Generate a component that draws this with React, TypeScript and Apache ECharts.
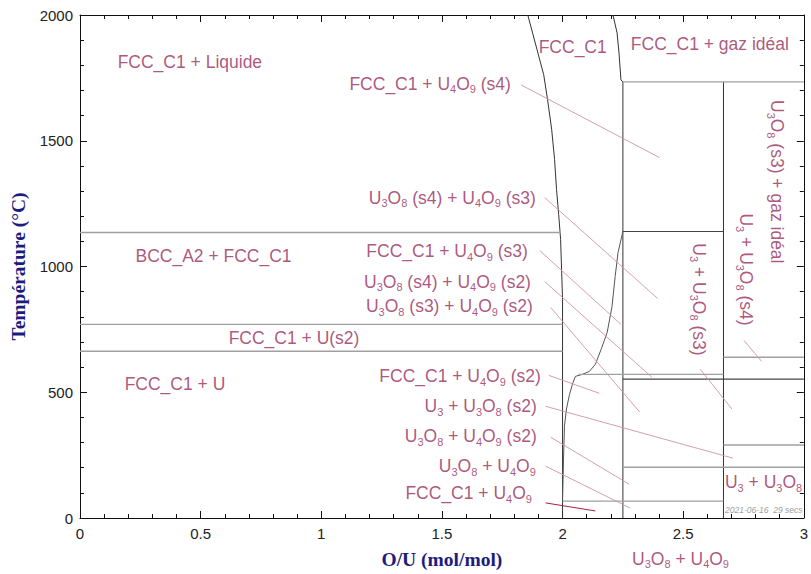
import React, { useEffect, useRef } from 'react';
import * as echarts from 'echarts';

// Axis ranges / ticks
const xRange = [0, 3];
const xStep = 0.5;
const yRange = [0, 2000];
const yStep = 500;

// Phase boundaries: [O/U, T (°C)]
const lowerFccBoundary = [
  [1.856, 2000], [1.889, 1881], [1.922, 1762], [1.938, 1663], [1.955, 1544],
  [1.967, 1425], [1.975, 1306], [1.984, 1206], [1.992, 1107], [1.996, 988],
  [2.0, 869], [2.0, 0],
];
const upperFccBoundary = [
  [2.209, 2000], [2.226, 1929], [2.234, 1849], [2.242, 1742], [2.25, 1734],
];
const u4o9Solvus = [
  [2.25, 1139], [2.23, 1056], [2.218, 960], [2.205, 841], [2.185, 738],
  [2.16, 671], [2.136, 611], [2.111, 583], [2.082, 571], [2.053, 563],
  [2.041, 532], [2.029, 492], [2.016, 433], [2.008, 365], [2.004, 234], [2.0, 75],
];
const u4o9Line = [[2.25, 1734], [2.25, 0]];
const u3o8Line = [[2.667, 1734], [2.667, 0]];

// Isotherms: [T, x from, x to]
const grayIsotherms = [
  [1135, 0, 1.993], [770, 0, 2.0], [663, 0, 2.0], [1734, 2.25, 3],
  [639, 2.667, 3], [571, 2.066, 2.667], [290, 2.667, 3], [202, 2.25, 3],
  [67, 2.0, 2.667],
];
const darkIsotherms = [
  [1139, 2.25, 2.667], [552, 2.25, 3],
];

// Leader lines: [[x1, T1], [x2, T2]]
const leaders = [
  [[1.828, 1722], [2.402, 1433]],
  [[1.926, 1274], [2.394, 873]],
  [[1.906, 1063], [2.242, 770]],
  [[1.926, 940], [2.37, 560]],
  [[1.951, 837], [2.32, 421]],
  [[1.943, 567], [2.152, 496]],
  [[1.93, 444], [2.706, 238]],
  [[1.951, 321], [2.275, 135]],
  [[1.93, 206], [2.279, 40]],
  [[2.752, 706], [2.825, 623]],
  [[2.571, 591], [2.702, 433]],
];
const darkLeaders = [
  [[1.93, 60], [2.136, 28]],
];

// Phase labels: [text, x, T]
const leftLabels: [string, number, number][] = [
  ['FCC_C1 + Liquide', 0.156, 1813],
  ['BCC_A2 + FCC_C1', 0.23, 1040],
  ['FCC_C1 + U(s2)', 0.616, 714],
  ['FCC_C1 + U', 0.185, 532],
  ['FCC_C1', 1.901, 1873],
  ['FCC_C1 + gaz idéal', 2.283, 1885],
  ['U{s|3} + U{s|3}O{s|8}', 2.673, 143],
];
const rightLabels: [string, number, number][] = [
  ['FCC_C1 + U{s|4}O{s|9} (s4)', 1.786, 1726],
  ['U{s|3}O{s|8} (s4) + U{s|4}O{s|9} (s3)', 1.889, 1274],
  ['FCC_C1 + U{s|4}O{s|9} (s3)', 1.856, 1060],
  ['U{s|3}O{s|8} (s4) + U{s|4}O{s|9} (s2)', 1.869, 940],
  ['U{s|3}O{s|8} (s3) + U{s|4}O{s|9} (s2)', 1.877, 841],
  ['FCC_C1 + U{s|4}O{s|9} (s2)', 1.91, 563],
  ['U{s|3} + U{s|3}O{s|8} (s2)', 1.893, 444],
  ['U{s|3}O{s|8} + U{s|4}O{s|9} (s2)', 1.893, 325],
  ['U{s|3}O{s|8} + U{s|4}O{s|9}', 1.889, 206],
  ['FCC_C1 + U{s|4}O{s|9}', 1.873, 99],
];
const verticalLabels: [string, number, number][] = [
  ['U{s|3}O{s|8} (s3) + gaz idéal', 2.887, 1337],
  ['U{s|3} + U{s|3}O{s|8} (s4)', 2.76, 988],
  ['U{s|3} + U{s|3}O{s|8} (s3)', 2.567, 869],
];
const centeredLabels: [string, number, number][] = [
  ['U{s|3}O{s|8} + U{s|4}O{s|9}', 2.489, -163],
];

const xTitle = 'O/U (mol/mol)';
const yTitle = 'Température (°C)';
const stamp = '2021-06-16  29 secs';

const LABEL_COLOR = '#972c5b';
const SANS = '"Liberation Sans", Arial, sans-serif';
const SERIF = '"Liberation Serif", "Times New Roman", serif';

export default function App() {
  const ref = useRef<HTMLDivElement>(null);

  useEffect(() => {
    const chart = echarts.init(ref.current!, null, { renderer: 'svg' });

    const lineSeries = (data: number[][], color: string, width = 1) => ({
      type: 'line',
      data,
      symbol: 'none',
      showSymbol: false,
      silent: true,
      animation: false,
      lineStyle: { color, width },
      z: 3,
    });

    const series: any[] = [];
    series.push(lineSeries(lowerFccBoundary, '#333', 1));
    series.push(lineSeries(upperFccBoundary, '#333', 1));
    series.push(lineSeries(u4o9Solvus, '#555', 1));
    series.push(lineSeries(u4o9Line, '#555', 1.2));
    series.push(lineSeries(u3o8Line, '#333', 1));
    grayIsotherms.forEach(([t, a, b]) => series.push(lineSeries([[a, t], [b, t]], '#a0a0a0', 1.4)));
    darkIsotherms.forEach(([t, a, b]) => series.push(lineSeries([[a, t], [b, t]], '#444', 1.1)));
    leaders.forEach((l) => series.push(lineSeries(l, '#cf93aa', 0.9)));
    darkLeaders.forEach((l) => series.push(lineSeries(l, '#a8203e', 1)));

    const rich = {
      s: { fontSize: 11, fontFamily: SANS, color: LABEL_COLOR, padding: [11, 0, 0, 0] },
    };
    const mkLabel = (text: string, x: number, t: number, position: string, rotate = 0) => ({
      value: [x, t],
      label: {
        show: true,
        position,
        distance: 0,
        rotate,
        formatter: text,
        color: LABEL_COLOR,
        fontSize: 17.5,
        fontFamily: SANS,
        rich,
      },
    });
    const labelData = [
      ...leftLabels.map(([s, x, t]) => mkLabel(s, x, t, 'right')),
      ...rightLabels.map(([s, x, t]) => mkLabel(s, x, t, 'left')),
      ...verticalLabels.map(([s, x, t]) => mkLabel(s, x, t, 'inside', -90)),
      ...centeredLabels.map(([s, x, t]) => mkLabel(s, x, t, 'inside')),
    ];
    series.push({
      type: 'scatter',
      data: labelData,
      symbolSize: 0,
      clip: false,
      silent: true,
      z: 5,
    });

    const axisCommon = {
      type: 'value',
      axisLine: { show: true, onZero: false, lineStyle: { color: '#111', width: 1 } },
      axisTick: { show: true, inside: true, length: 7, lineStyle: { color: '#111' } },
      minorTick: { show: true, splitNumber: 5, length: 4, lineStyle: { color: '#111' } },
      splitLine: { show: false },
      minorSplitLine: { show: false },
    };
    const plain = (v: number) => String(v);

    chart.setOption({
      animation: false,
      grid: { left: 80, right: 1, top: 15, bottom: 55, containLabel: false },
      xAxis: [
        {
          ...axisCommon,
          position: 'bottom',
          min: xRange[0],
          max: xRange[1],
          interval: xStep,
          axisLabel: { color: '#222', fontSize: 15, fontFamily: SANS, margin: 8, formatter: plain },
          name: xTitle,
          nameLocation: 'middle',
          nameGap: 31,
          nameTextStyle: { color: '#1c1c80', fontSize: 19.5, fontWeight: 'bold', fontFamily: SERIF },
        },
        {
          ...axisCommon,
          position: 'top',
          min: xRange[0],
          max: xRange[1],
          interval: xStep,
          axisLabel: { show: false },
        },
      ],
      yAxis: [
        {
          ...axisCommon,
          position: 'left',
          min: yRange[0],
          max: yRange[1],
          interval: yStep,
          axisLabel: { color: '#222', fontSize: 15, fontFamily: SANS, margin: 7, formatter: plain },
          name: yTitle,
          nameLocation: 'middle',
          nameRotate: 90,
          nameGap: 48,
          nameTextStyle: { color: '#1c1c80', fontSize: 19.5, fontWeight: 'bold', fontFamily: SERIF },
        },
        {
          ...axisCommon,
          position: 'right',
          min: yRange[0],
          max: yRange[1],
          interval: yStep,
          axisLabel: { show: false },
        },
      ],
      graphic: [
        {
          type: 'text',
          left: 725,
          top: 505,
          silent: true,
          style: {
            text: stamp,
            fill: '#a0a0a0',
            fontSize: 8.5,
            fontStyle: 'italic',
            fontFamily: SANS,
          },
        },
      ],
      series,
    });

    return () => chart.dispose();
  }, []);

  return (
    <div
      ref={ref}
      style={{ position: 'fixed', left: 0, top: 0, width: 811, height: 574, background: '#fff' }}
    />
  );
}
